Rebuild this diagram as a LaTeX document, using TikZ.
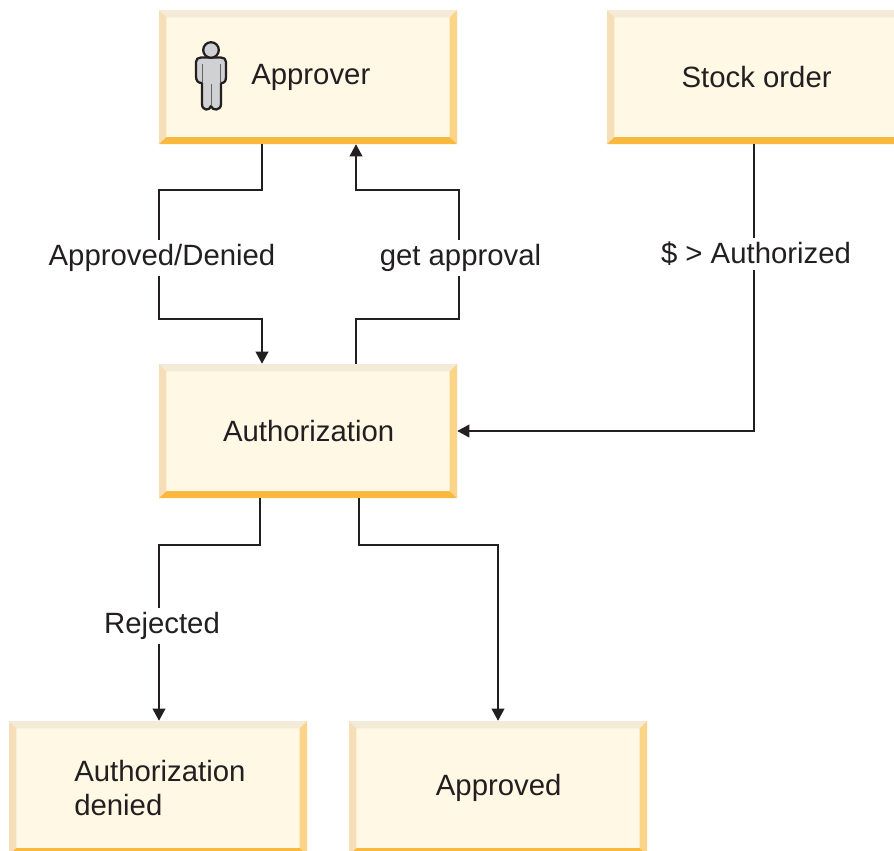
\documentclass[tikz,border=0pt]{standalone}
\usepackage{fontspec}
\setmainfont{Liberation Sans}
\usetikzlibrary{arrows.meta}
\definecolor{boxfill}{HTML}{FEF8E5}
\definecolor{bevT}{HTML}{F4EAD8}
\definecolor{bevL}{HTML}{F6DFB8}
\definecolor{bevR}{HTML}{FBD488}
\definecolor{bevB}{HTML}{F9B93F}
\definecolor{ink}{HTML}{231F20}
\definecolor{bodygray}{HTML}{CFD1D3}
\tikzset{
  x=0.75pt,y=-0.75pt,
  statebox/.style={rectangle,inner sep=0pt,minimum width=223.5pt,minimum height=100.5pt,fill=boxfill,text=ink,font=\fontsize{22}{25}\selectfont,
    path picture={
      \coordinate (nw) at (path picture bounding box.north west);
      \coordinate (se) at (path picture bounding box.south east);
      \fill[bevT] (nw) -- (nw -| se) -- ([shift={(-5.6pt,-5.6pt)}]nw -| se) -- ([shift={(5.6pt,-5.6pt)}]nw) -- cycle;
      \fill[bevL] (nw) -- (nw |- se) -- ([shift={(5.6pt,5.2pt)}]nw |- se) -- ([shift={(5.6pt,-5.6pt)}]nw) -- cycle;
      \fill[bevR] (nw -| se) -- (se) -- ([shift={(-5.6pt,5.2pt)}]se) -- ([shift={(-5.6pt,-5.6pt)}]nw -| se) -- cycle;
      \fill[bevB] (nw |- se) -- (se) -- ([shift={(-5.6pt,5.2pt)}]se) -- ([shift={(5.6pt,5.2pt)}]nw |- se) -- cycle;
    }},
  link/.style={draw=ink,line width=1.1pt,-{Triangle[length=9pt,width=9.5pt]}},
  linklabel/.style={fill=white,text=ink,inner xsep=1pt,inner ysep=3pt,font=\fontsize{22}{25}\selectfont},
}
\begin{document}
\begin{tikzpicture}
\useasboundingbox (0,0) rectangle (894,851);
\fill[white] (0,0) rectangle (894,851);
\node[statebox] (approver) at (308,77) {};
\node[text=ink,font=\fontsize{22}{25}\selectfont,anchor=base west,inner sep=0pt] (approverText) at (251,84) {Approver};
\node[statebox] (stock) at (756,77) {\hspace{1pt}Stock order};
\node[statebox] (auth) at (308,431) {\hspace{1pt}Authorization};
\node[statebox] (denied) at (158,788) {};
\node[text=ink,font=\fontsize{22}{25}\selectfont,align=left,anchor=west,inner sep=0pt] (deniedText) at (74,788) {Authorization\\denied};
\node[statebox] (approved) at (498,788) {\hspace{1pt}Approved};
% person icon
\filldraw[fill=bodygray,draw=ink,line width=1.7pt,line join=round]
  (196,66) -- (196,62)
  .. controls (196,59) and (198,57.5) .. (201,57.5) -- (221,57.5)
  .. controls (224,57.5) and (226,59) .. (226,62) -- (226,76)
  .. controls (226,81) and (225,83) .. (221,83) -- (221,104)
  .. controls (221,111) and (212,111) .. (211,106)
  .. controls (210,111) and (202,111) .. (202,104) -- (202,83)
  .. controls (198,83) and (196,81) .. (196,76) -- cycle;
\filldraw[fill=bodygray,draw=ink,line width=1.7pt] (211,50) circle (7.8);
\draw[ink!70,line width=0.6pt] (202,64) -- (202,83) (220,64) -- (220,83) (211,84) -- (211,106);
% connectors
\draw[link] (approver.south -| 262,0) -- (262,190) -- (159,190) -- (159,319) -- (262,319) -- (auth.north -| 262,0);
\draw[link] (auth.north -| 356,0) -- (356,319) -- (459,319) -- (459,190) -- (356,190) -- (approver.south -| 356,0);
\draw[link] (stock.south -| 754,0) -- (754,431) -- (auth.east);
\draw[link] (auth.south -| 260,0) -- (260,545) -- (159,545) -- (denied.north -| 159,0);
\draw[link] (auth.south -| 359,0) -- (359,545) -- (498,545) -- (approved.north);
\node[linklabel] (lblA) at (162,258) {Approved/Denied};
\node[linklabel] (lblB) at (460.5,258) {get approval};
\node[linklabel] (lblC) at (756,254) {\$ > Authorized};
\node[linklabel] (lblD) at (162,626) {Rejected};
\end{tikzpicture}
\end{document}
